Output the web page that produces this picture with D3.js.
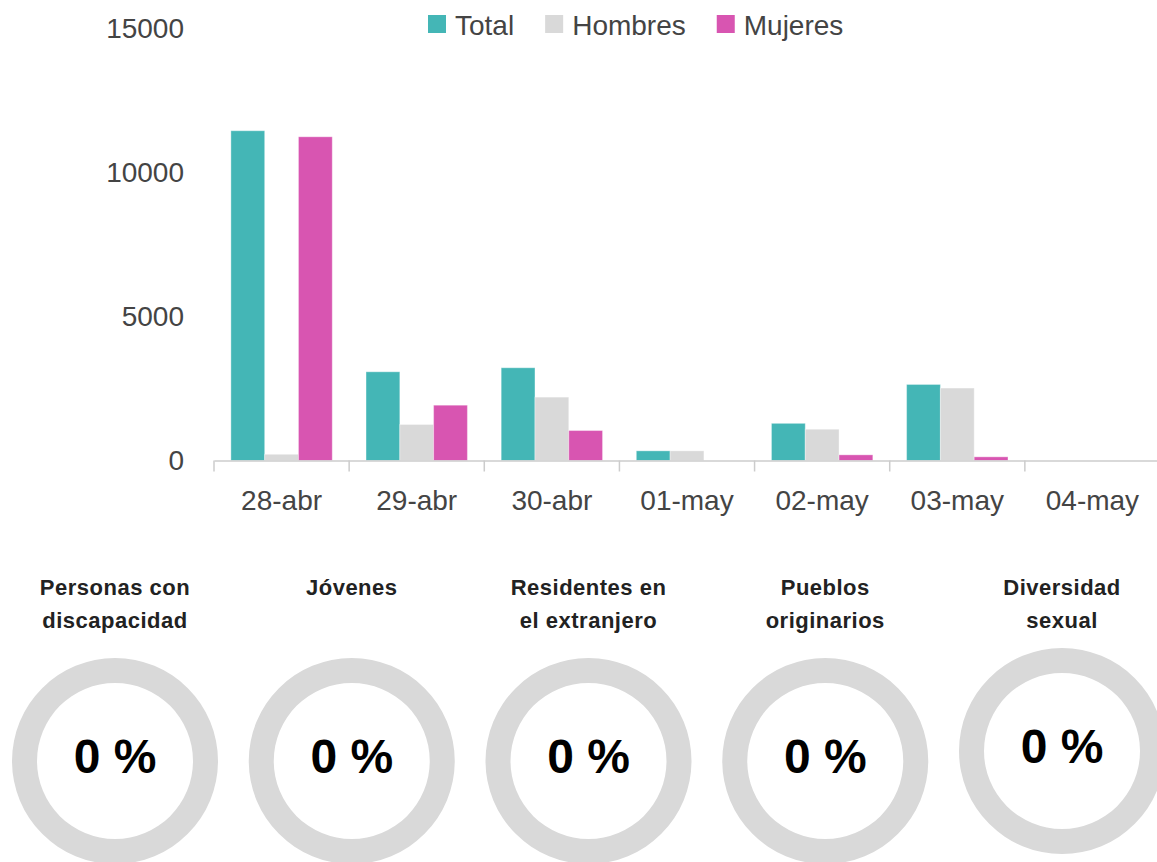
<!DOCTYPE html>
<html>
<head>
<meta charset="utf-8">
<script src="https://cdn.jsdelivr.net/npm/d3@7"></script>
<style>
  html, body { margin: 0; padding: 0; background: #fff; }
  svg { display: block; font-family: "Liberation Sans", Arial, sans-serif; }
</style>
</head>
<body>
<svg id="chart" width="1157" height="862"></svg>
<script>
// ---- data ----
const categories = ["28-abr", "29-abr", "30-abr", "01-may", "02-may", "03-may", "04-may"];
const seriesNames = ["Total", "Hombres", "Mujeres"];
const totalValues   = [11450, 3080, 3220, 335, 1290, 2640, 0];
const hombresValues = [215, 1250, 2200, 335, 1085, 2515, 0];
const mujeresValues = [11240, 1920, 1040, 0, 196, 127, 0];
const yTicks = [0, 5000, 10000, 15000];
const seriesColors = ["#44b6b6", "#d9d9d9", "#d855b1"];

const groupTitles = [
  ["Personas con", "discapacidad"],
  ["Jóvenes"],
  ["Residentes en", "el extranjero"],
  ["Pueblos", "originarios"],
  ["Diversidad", "sexual"]
];
const groupPercent = [0, 0, 0, 0, 0];

// ---- build ----
const svg = d3.select("#chart");
const seriesValues = [totalValues, hombresValues, mujeresValues];

const x0 = d3.scaleBand().domain(categories).range([214, 1160]).paddingInner(0.25).paddingOuter(0.125);
const x1 = d3.scaleBand().domain(seriesNames).range([0, x0.bandwidth()]);
const y = d3.scaleLinear().domain([0, 15000]).range([460.5, 28.5]);
const color = d3.scaleOrdinal().domain(seriesNames).range(seriesColors);

// Y axis (labels only)
const yAxis = svg.append("g").attr("transform", "translate(214,0)")
  .call(d3.axisLeft(y).tickValues(yTicks).tickSize(0).tickPadding(30).tickFormat(d3.format("d")));
yAxis.select(".domain").remove();
yAxis.selectAll("text").attr("font-size", 28).attr("fill", "#444").attr("font-family", "Liberation Sans, Arial, sans-serif");

// Bars
const rows = categories.map((c, i) => ({ cat: c, vals: seriesNames.map((s, j) => ({ s, v: seriesValues[j][i] })) }));
const grp = svg.append("g").selectAll("g").data(rows).join("g")
  .attr("transform", d => `translate(${x0(d.cat)},0)`);
grp.selectAll("rect").data(d => d.vals).join("rect")
  .attr("x", d => x1(d.s))
  .attr("width", x1.bandwidth())
  .attr("y", d => y(d.v))
  .attr("height", d => y(0) - y(d.v))
  .attr("fill", d => color(d.s))
  .attr("stroke", "#ffffff")
  .attr("stroke-opacity", 0.35)
  .attr("stroke-width", 1);

// X axis
const step = x0.step();
const xAxis = svg.append("g").attr("transform", `translate(0,${y(0)})`)
  .call(d3.axisBottom(x0).tickSize(0).tickPadding(30));
xAxis.select(".domain").attr("stroke", "#cccccc").attr("stroke-width", 1.5);
xAxis.selectAll("text").attr("font-size", 28).attr("fill", "#444").attr("font-family", "Liberation Sans, Arial, sans-serif");
xAxis.selectAll("line.sep").data(categories).join("line").attr("class", "sep")
  .attr("x1", d => x0(d) - step * 0.125).attr("x2", d => x0(d) - step * 0.125)
  .attr("y1", 0).attr("y2", 11)
  .attr("stroke", "#cccccc").attr("stroke-width", 1.5);

// Legend
const legend = svg.append("g").attr("transform", "translate(428,0)");
let lx = 0;
seriesNames.forEach((s, i) => {
  const g = legend.append("g").attr("transform", `translate(${lx},0)`);
  g.append("rect").attr("x", 0).attr("y", 15).attr("width", 18).attr("height", 18).attr("fill", color(s));
  const t = g.append("text").attr("x", 27).attr("y", 35).attr("font-size", 28).attr("fill", "#444").text(s);
  lx += 27 + t.node().getComputedTextLength() + 31;
});

// Donuts
const cx = d3.scalePoint().domain(d3.range(groupTitles.length)).range([115, 1062]);
const arcBg = d3.arc().innerRadius(78).outerRadius(103).startAngle(0).endAngle(2 * Math.PI);
const arcFg = d3.arc().innerRadius(78).outerRadius(103).startAngle(0);
groupTitles.forEach((lines, i) => {
  const x = cx(i);
  const cy = i === groupTitles.length - 1 ? 751 : 761;
  const title = svg.append("text").attr("text-anchor", "middle")
    .attr("font-size", 22).attr("font-weight", "bold").attr("fill", "#222").attr("letter-spacing", 0.5);
  lines.forEach((ln, k) => {
    title.append("tspan").attr("x", x).attr("y", 595 + k * 33).text(ln);
  });
  const g = svg.append("g").attr("transform", `translate(${x},${cy})`);
  g.append("path").attr("d", arcBg()).attr("fill", "#d9d9d9");
  g.append("path").attr("d", arcFg({ endAngle: 2 * Math.PI * groupPercent[i] / 100 })).attr("fill", "#44b6b6");
  g.append("text").attr("text-anchor", "middle").attr("y", 12)
    .attr("font-size", 48).attr("font-weight", "bold").attr("fill", "#000")
    .text(groupPercent[i] + " %");
});
</script>
</body>
</html>
